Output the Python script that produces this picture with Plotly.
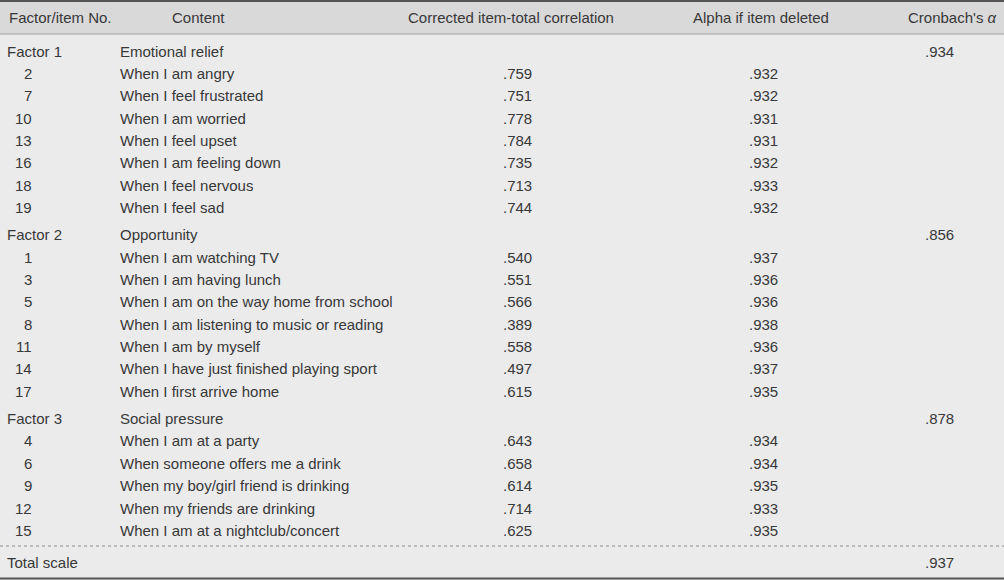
import plotly.graph_objects as go

# ---- data ----
headers = ["Factor/item No.", "Content", "Corrected item-total correlation",
           "Alpha if item deleted", "Cronbach's <i>α</i>"]
factor_labels = ["Factor 1", "Factor 2", "Factor 3"]
factor_names = ["Emotional relief", "Opportunity", "Social pressure"]
factor_alpha = [".934", ".856", ".878"]

f1_items = ["2", "7", "10", "13", "16", "18", "19"]
f1_content = ["When I am angry", "When I feel frustrated", "When I am worried",
              "When I feel upset", "When I am feeling down", "When I feel nervous",
              "When I feel sad"]
f1_corr = [".759", ".751", ".778", ".784", ".735", ".713", ".744"]
f1_alpha = [".932", ".932", ".931", ".931", ".932", ".933", ".932"]

f2_items = ["1", "3", "5", "8", "11", "14", "17"]
f2_content = ["When I am watching TV", "When I am having lunch",
              "When I am on the way home from school",
              "When I am listening to music or reading", "When I am by myself",
              "When I have just finished playing sport", "When I first arrive home"]
f2_corr = [".540", ".551", ".566", ".389", ".558", ".497", ".615"]
f2_alpha = [".937", ".936", ".936", ".938", ".936", ".937", ".935"]

f3_items = ["4", "6", "9", "12", "15"]
f3_content = ["When I am at a party", "When someone offers me a drink",
              "When my boy/girl friend is drinking", "When my friends are drinking",
              "When I am at a nightclub/concert"]
f3_corr = [".643", ".658", ".614", ".714", ".625"]
f3_alpha = [".934", ".934", ".935", ".933", ".935"]

total_label = "Total scale"
total_alpha = ".937"

# ---- layout constants ----
W, H = 1004, 580
FONT = "Liberation Sans, Arial, sans-serif"
FS = 15
TXT = "#383838"
HEADER_BG = "#d9d9da"
BODY_BG = "#ebebec"

fig = go.Figure()
fig.add_trace(go.Scatter(x=[0, W], y=[0, H], mode="markers",
                         marker=dict(opacity=0), hoverinfo="skip", showlegend=False))

shapes = [
    dict(type="rect", x0=0, x1=W, y0=0, y1=34, fillcolor=HEADER_BG, line_width=0, layer="below"),
    dict(type="line", x0=0, x1=W, y0=1, y1=1, line=dict(color="#555555", width=2)),
    dict(type="line", x0=0, x1=W, y0=34, y1=34, line=dict(color="#a0a0a0", width=1)),
    dict(type="line", x0=0, x1=W, y0=546, y1=546, line=dict(color="#8a8a8a", width=1, dash="dot")),
    dict(type="line", x0=0, x1=W, y0=578.5, y1=578.5, line=dict(color="#555555", width=2)),
]

ann = []
PAD = 2
def txt(x, y, s, anchor):
    if anchor == "left":
        x -= PAD
    elif anchor == "right":
        x += PAD
    ann.append(dict(x=x, y=y, xref="x", yref="y", text=s, showarrow=False,
                    xanchor=anchor, yanchor="middle",
                    font=dict(family=FONT, size=FS, color=TXT)))

# header
hy = 17
txt(9, hy, headers[0], "left")
txt(198, hy, headers[1], "center")
txt(511, hy, headers[2], "center")
txt(761, hy, headers[3], "center")
txt(997, hy, headers[4], "right")

# columns
X_FAC = 7
X_NUM = 32
X_CONT = 120
X_CORR = 532
X_ALPHA = 778
X_CRON = 954

STEP = 22.35
EXTRA = 5.0
groups = [
    (f1_items, f1_content, f1_corr, f1_alpha),
    (f2_items, f2_content, f2_corr, f2_alpha),
    (f3_items, f3_content, f3_corr, f3_alpha),
]
y = 51.0
for gi, (items, content, corr, alph) in enumerate(groups):
    if gi > 0:
        y += STEP + EXTRA
    txt(X_FAC, y, factor_labels[gi], "left")
    txt(X_CONT, y, factor_names[gi], "left")
    txt(X_CRON, y, factor_alpha[gi], "right")
    for it, c, r, a in zip(items, content, corr, alph):
        y += STEP
        txt(X_NUM, y, it, "right")
        txt(X_CONT, y, c, "left")
        txt(X_CORR, y, r, "right")
        txt(X_ALPHA, y, a, "right")

ty = 562
txt(X_FAC, ty, total_label, "left")
txt(X_CRON, ty, total_alpha, "right")

fig.update_layout(
    width=W, height=H, margin=dict(l=0, r=0, t=0, b=0),
    paper_bgcolor=BODY_BG, plot_bgcolor=BODY_BG,
    xaxis=dict(range=[0, W], visible=False, fixedrange=True),
    yaxis=dict(range=[H, 0], visible=False, fixedrange=True),
    shapes=shapes, annotations=ann, showlegend=False,
)
fig.write_html("out.html", config={"displayModeBar": False},
               post_script="document.body.style.margin='0';document.body.style.overflow='hidden';")
